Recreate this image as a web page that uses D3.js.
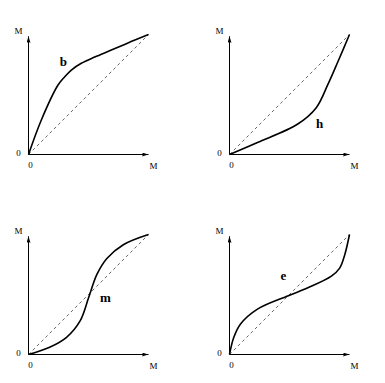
<!DOCTYPE html>
<html>
<head>
<meta charset="utf-8">
<script src="https://cdn.jsdelivr.net/npm/d3@7"></script>
<style>
  body { margin: 0; background: #fff; }
  text { font-family: "Liberation Serif", "DejaVu Serif", serif; }
</style>
</head>
<body>
<svg width="385" height="383"></svg>
<script>
// curve data, in units of the diagonal (0..1)
var curveB = [[0,0],[0.107,0.288],[0.246,0.579],[0.302,0.648],[0.357,0.704],[0.44,0.76],[0.552,0.812],[0.69,0.87],[0.829,0.93],[1,1]];
var curveH = [[0,0],[0.233,0.10],[0.569,0.254],[0.723,0.39],[0.82,0.584],[0.905,0.777],[1,1]];
var curveM = [[0,0],[0.176,0.06],[0.317,0.143],[0.43,0.28],[0.5,0.47],[0.57,0.667],[0.653,0.80],[0.79,0.915],[1,1]];
var curveE = [[0,0],[0.036,0.143],[0.092,0.254],[0.233,0.378],[0.485,0.488],[0.653,0.556],[0.849,0.653],[0.918,0.72],[0.96,0.83],[1,1]];

var panelNames = ["b", "h", "m", "e"];
var panelCurves = [curveB, curveH, curveM, curveE];
// where the letter sits, in data units
var letterPos = [[0.29, 0.74], [0.75, 0.22], [0.64, 0.44], [0.45, 0.62]];

var svg = d3.select("svg");

var defs = svg.append("defs");
defs.append("marker")
  .attr("id", "arr")
  .attr("viewBox", "0 0 10 6")
  .attr("refX", 10)
  .attr("refY", 3)
  .attr("markerWidth", 9)
  .attr("markerHeight", 4)
  .attr("markerUnits", "userSpaceOnUse")
  .attr("orient", "auto")
  .append("path")
  .attr("d", "M0,0 L10,3 L0,6 L2,3 Z")
  .attr("fill", "#000");

var origins = [[28.5, 154.5], [229.5, 154.5], [28.5, 354.5], [229.5, 354.5]];
var size = 120;

panelCurves.forEach(function (data, i) {
  var ox = origins[i][0], oy = origins[i][1];
  var x = d3.scaleLinear().domain([0, 1]).range([ox, ox + size]);
  var y = d3.scaleLinear().domain([0, 1]).range([oy, oy - size]);
  var g = svg.append("g");

  // axes
  g.append("line")
    .attr("x1", x(0)).attr("y1", y(0))
    .attr("x2", x(1)).attr("y2", y(0))
    .attr("stroke", "#000").attr("stroke-width", 1)
    .attr("marker-end", "url(#arr)");
  g.append("line")
    .attr("x1", x(0)).attr("y1", y(0))
    .attr("x2", x(0)).attr("y2", y(0.985))
    .attr("stroke", "#000").attr("stroke-width", 1)
    .attr("marker-end", "url(#arr)");

  // diagonal
  g.append("line")
    .attr("x1", x(0)).attr("y1", y(0))
    .attr("x2", x(1)).attr("y2", y(1))
    .attr("stroke", "#000").attr("stroke-width", 0.6)
    .attr("stroke-dasharray", "3,3");

  // curve
  var line = d3.line()
    .x(function (d) { return x(d[0]); })
    .y(function (d) { return y(d[1]); })
    .curve(d3.curveCatmullRom.alpha(0.5));
  g.append("path")
    .datum(data)
    .attr("d", line)
    .attr("fill", "none")
    .attr("stroke", "#000")
    .attr("stroke-width", 1.6);

  // labels
  g.append("text").attr("x", ox - 10).attr("y", y(1) - 1)
    .attr("text-anchor", "middle").attr("font-size", 9).text("M");
  g.append("text").attr("x", ox - 10).attr("y", oy + 1)
    .attr("text-anchor", "middle").attr("font-size", 9).text("0");
  g.append("text").attr("x", ox + 2).attr("y", oy + 13)
    .attr("text-anchor", "middle").attr("font-size", 9).text("0");
  g.append("text").attr("x", x(1) + 5).attr("y", oy + 14)
    .attr("text-anchor", "middle").attr("font-size", 9).text("M");
  g.append("text")
    .attr("x", x(letterPos[i][0])).attr("y", y(letterPos[i][1]))
    .attr("text-anchor", "middle").attr("font-size", 13)
    .attr("font-weight", "bold").text(panelNames[i]);
});
</script>
</body>
</html>
